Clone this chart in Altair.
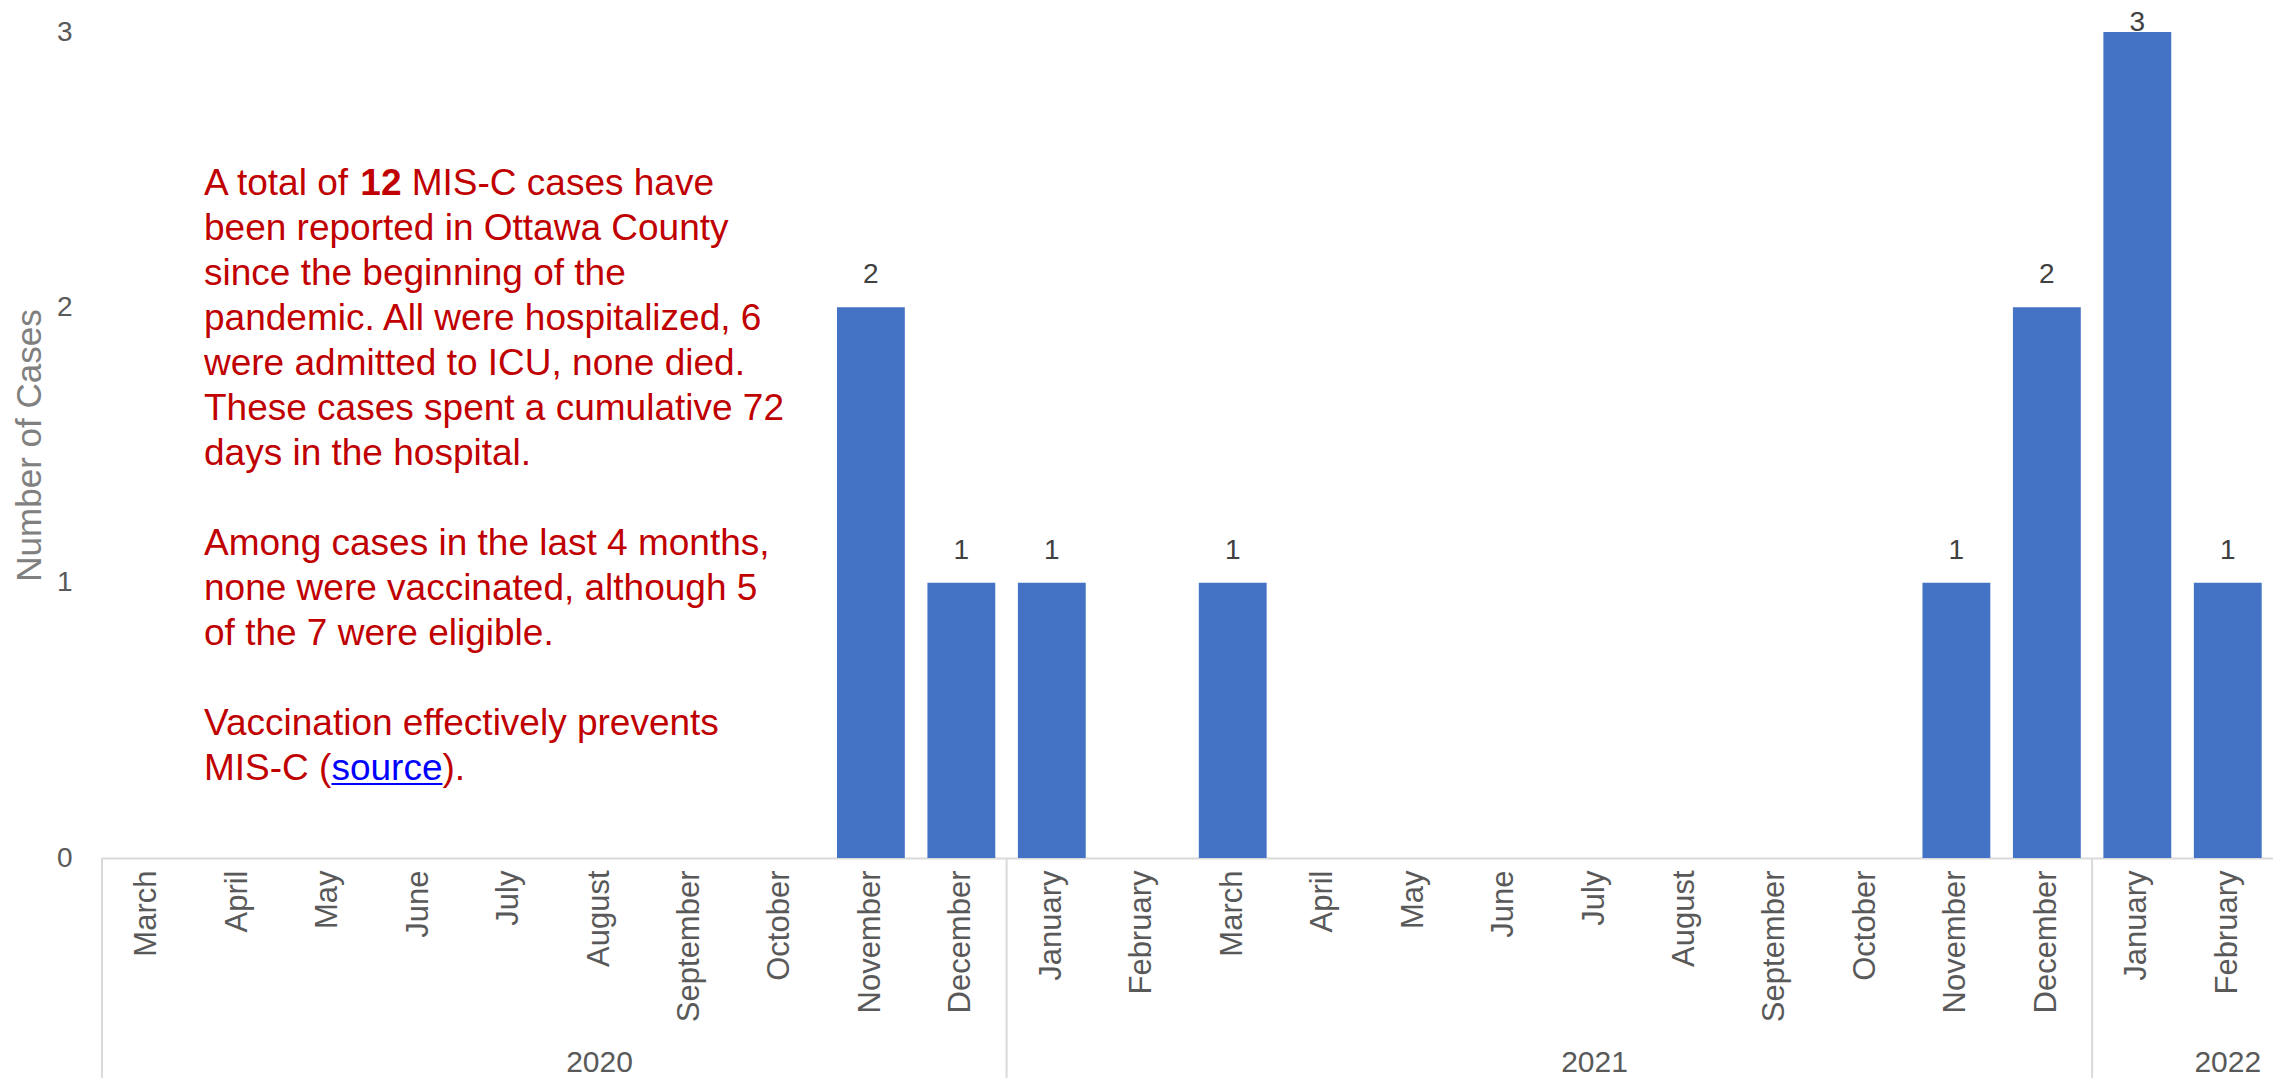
import altair as alt
import pandas as pd

# ---------------- data ----------------
month_names = ["March", "April", "May", "June", "July", "August", "September", "October",
               "November", "December",
               "January", "February", "March", "April", "May", "June", "July", "August",
               "September", "October", "November", "December",
               "January", "February"]
month_years = ["2020"] * 10 + ["2021"] * 12 + ["2022"] * 2
cases = [0, 0, 0, 0, 0, 0, 0, 0, 2, 1,
         1, 0, 1, 0, 0, 0, 0, 0, 0, 0, 1, 2,
         3, 1]
year_labels = ["2020", "2021", "2022"]

first_line = ["A total of", "12", "MIS-C cases have"]      # middle piece bold
middle_lines = [
    "been reported in Ottawa County",
    "since the beginning of the",
    "pandemic. All were hospitalized, 6",
    "were admitted to ICU, none died.",
    "These cases spent a cumulative 72",
    "days in the hospital.",
    "",
    "Among cases in the last 4 months,",
    "none were vaccinated, although 5",
    "of the 7 were eligible.",
    "",
    "Vaccination effectively prevents",
]
last_line = ["MIS-C (", "source", ")."]                      # middle piece is the link

# ---------------- layout / style ----------------
FONT = "Liberation Sans, Arial, sans-serif"
W, H = 2171, 826
ANN_X, ANN_Y, ANN_FS, ANN_LH = 102, 163, 37, 45
RED, BLUE = "#C00000", "#0000FF"

# Arial / Liberation Sans advance widths (em)
_em = {"A": .667, " ": .278, "t": .278, "o": .556, "a": .556, "l": .222, "f": .278,
       "M": .833, "I": .278, "S": .667, "-": .333, "C": .722, "(": .333,
       "s": .5, "u": .556, "r": .333, "c": .5, "e": .556, "1": .556, "2": .556}


def text_width(s, size):
    return sum(_em[ch] for ch in s) * size


keys = [f"{y} {m}" for y, m in zip(month_years, month_names)]
df = pd.DataFrame({"key": keys, "month": month_names, "year": month_years, "cases": cases})

groups = []
for yl in year_labels:
    idx = [i for i, y in enumerate(month_years) if y == yl]
    groups.append({"year": yl, "start": keys[idx[0]], "anchor": keys[idx[0] + len(idx) // 2]})
gdf = pd.DataFrame(groups)

bar_scale = alt.Scale(domain=keys, paddingInner=0.25, paddingOuter=0.125)
step_scale = alt.Scale(domain=keys, paddingInner=0, paddingOuter=0)
y_scale = alt.Scale(domain=[0, 3], nice=False)

x_axis = alt.Axis(labelExpr="split(datum.value, ' ')[1]", labelAngle=270,
                  labelFontSize=31, labelColor="#595959", labelFont=FONT,
                  ticks=False, domainColor="#D9D9D9", domainWidth=2,
                  labelPadding=12, grid=False, labelOverlap=False)
y_axis = alt.Axis(values=[0, 1, 2, 3], domain=False, ticks=False, grid=False,
                  labelFontSize=28, labelColor="#595959", labelFont=FONT,
                  labelPadding=30, titleFontSize=35, titleColor="#808080",
                  titleFont=FONT, titleFontWeight="normal", titleX=-73,
                  titleY=H / 2, titleAngle=270, titleAlign="center",
                  titleBaseline="middle")

base = alt.Chart(df).transform_filter("datum.cases > 0")

bars = base.mark_bar(color="#4472C4").encode(
    x=alt.X("key:N", scale=bar_scale, title=None, axis=x_axis),
    y=alt.Y("cases:Q", scale=y_scale, title="Number of Cases", axis=y_axis),
)

# labels sit above each bar; the top one is kept inside the chart area
value_labels = base.transform_calculate(
    labely="min(datum.cases, 2.915)"
).mark_text(baseline="alphabetic", dy=-24, fontSize=28, color="#404040",
            font=FONT).encode(
    x=alt.X("key:N", scale=bar_scale, title=None, axis=None),
    y=alt.Y("labely:Q", scale=y_scale, title="Number of Cases", axis=y_axis),
    text=alt.Text("cases:Q"),
)

seps = alt.Chart(gdf).mark_rule(color="#D9D9D9", strokeWidth=2).encode(
    x=alt.X("start:N", scale=step_scale, bandPosition=0, axis=None),
    y=alt.value(H),
    y2=alt.value(H + 220),
)

year_text = alt.Chart(gdf).mark_text(fontSize=30, color="#595959", font=FONT,
                                     baseline="alphabetic").encode(
    x=alt.X("anchor:N", scale=step_scale, bandPosition=0, axis=None),
    y=alt.value(H + 214),
    text="year:N",
)

one = pd.DataFrame({"a": [0]})


def ann_text(text, x, y, color=RED, weight="normal"):
    return alt.Chart(one).mark_text(text=text, align="left", baseline="alphabetic",
                                    fontSize=ANN_FS, fontWeight=weight, color=color,
                                    lineHeight=ANN_LH, font=FONT).encode(
        x=alt.value(x), y=alt.value(y))


layers = []
# first line: "A total of" + bold "12" + rest, separated by spaces
x2 = ANN_X + text_width(first_line[0] + " ", ANN_FS)
x3 = x2 + text_width(first_line[1] + " ", ANN_FS)
layers += [ann_text(first_line[0], ANN_X, ANN_Y),
           ann_text(first_line[1], x2, ANN_Y, weight="bold"),
           ann_text(first_line[2], x3, ANN_Y)]

# paragraphs (blank entries separate them)
row = 1
para, para_row = [], 1
for ln in middle_lines + [""]:
    if ln == "":
        if para:
            layers.append(ann_text(para, ANN_X, ANN_Y + para_row * ANN_LH))
        para = []
        para_row = row + 1
    else:
        para.append(ln)
    row += 1

ly = ANN_Y + (len(middle_lines) + 1) * ANN_LH
lx = ANN_X + text_width(last_line[0], ANN_FS)
lx2 = lx + text_width(last_line[1], ANN_FS)
layers += [ann_text(last_line[0], ANN_X, ly),
           ann_text(last_line[1], lx, ly, color=BLUE),
           ann_text(last_line[2], lx2, ly)]
underline = alt.Chart(one).mark_rule(color=BLUE, strokeWidth=2).encode(
    x=alt.value(lx), x2=alt.value(lx2), y=alt.value(ly + 4))

chart = alt.layer(bars, value_labels, seps, year_text, *layers, underline).resolve_scale(
    x="independent"
).properties(
    width=W, height=H,
    autosize=alt.AutoSizeParams(type="none"),
    padding={"left": 94, "top": 24, "right": 0, "bottom": 220},
).configure_view(stroke=None)

chart.save("out.html", embed_options={"renderer": "svg", "actions": False})
